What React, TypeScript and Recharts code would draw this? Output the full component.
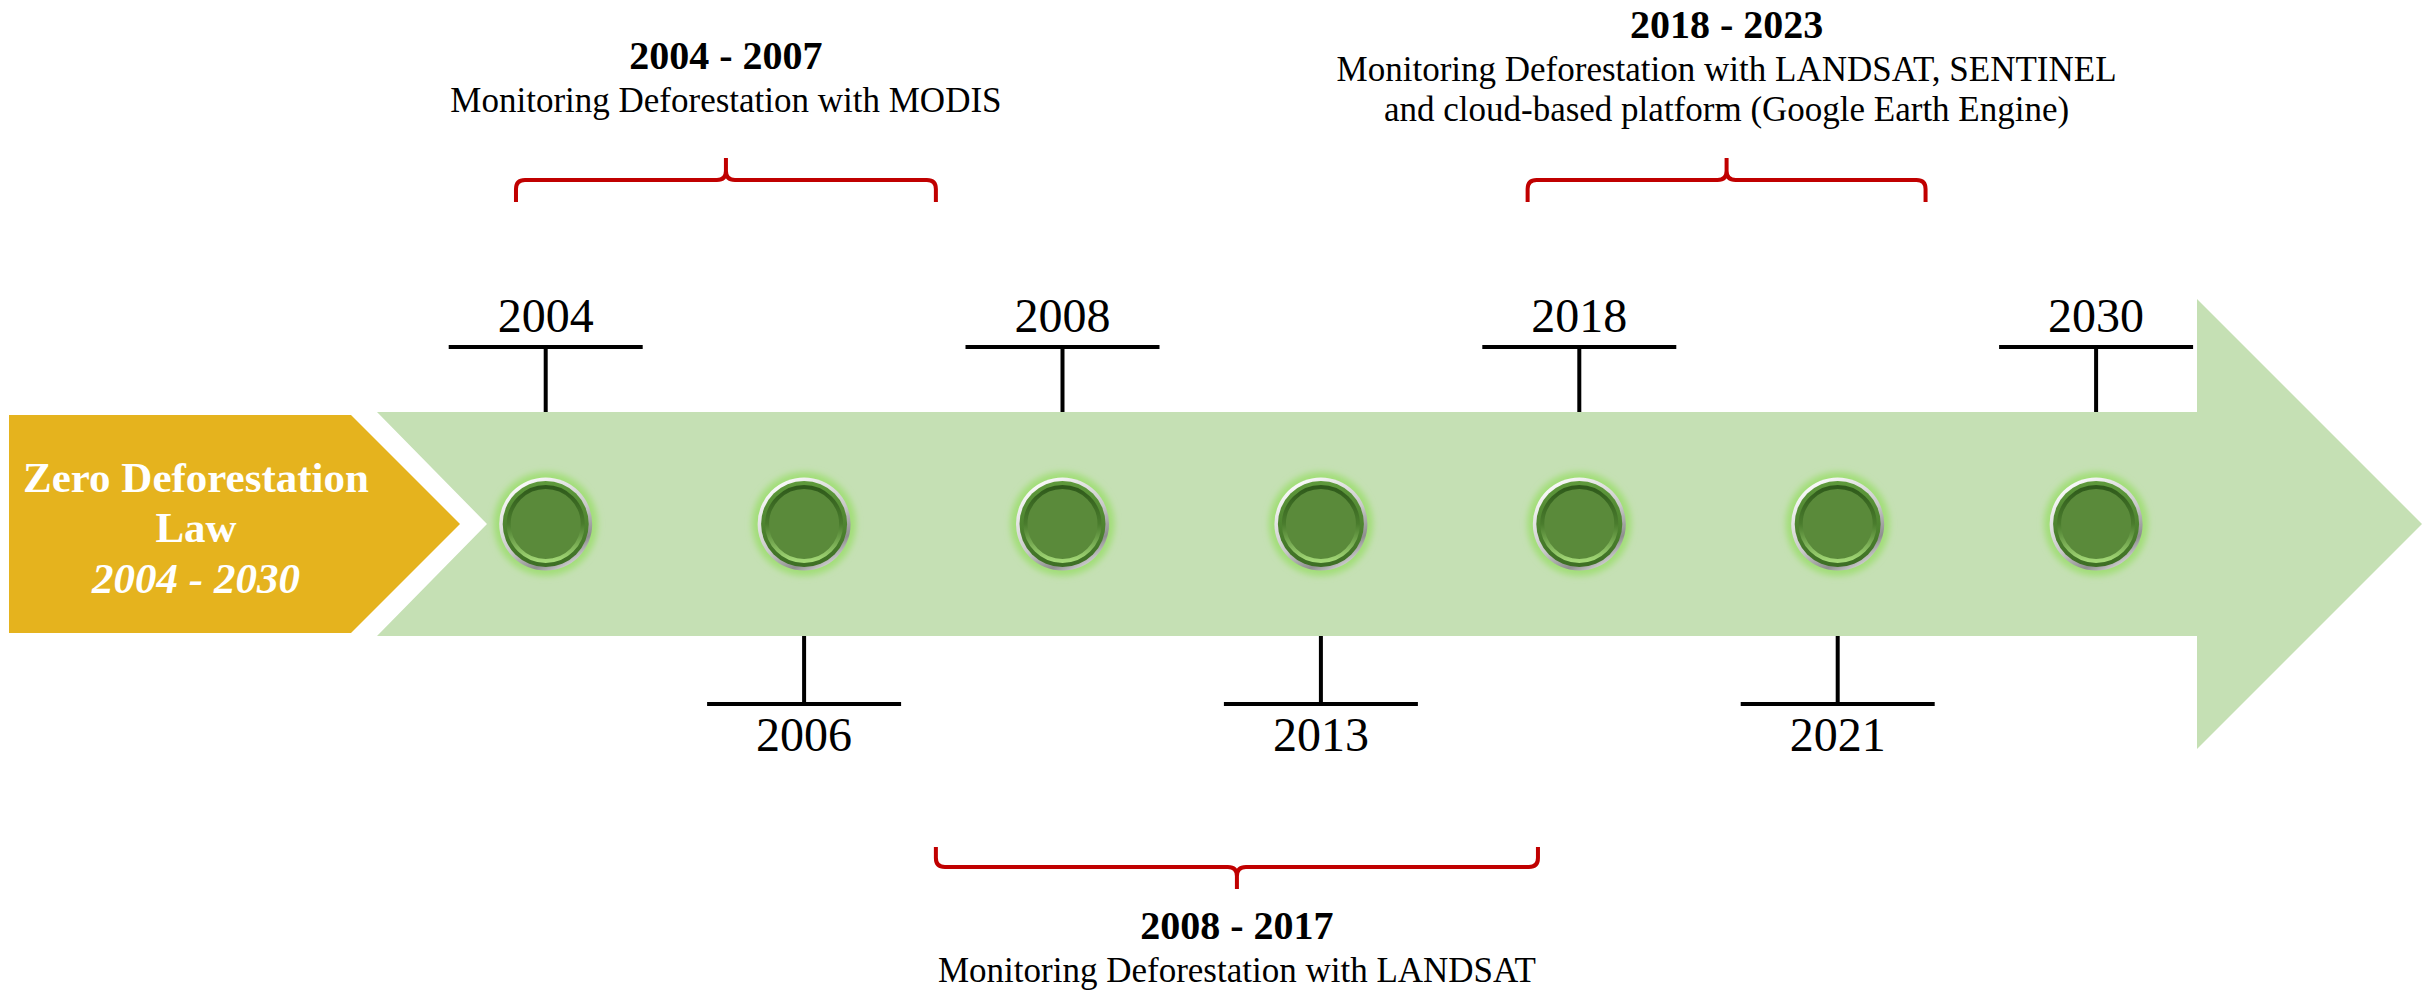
import { ScatterChart, Scatter, XAxis, YAxis, ReferenceArea } from "recharts";

const W = 2422;
const H = 990;
const SERIF = '"Liberation Serif", "Times New Roman", Times, serif';

// milestones along the arrow, one slot each
const years = ["2004", "2006", "2008", "2013", "2018", "2021", "2030"];
const labelSides = ["up", "down", "up", "down", "up", "down", "up"];

// monitoring periods (bracket spans in slot units)
const periodTitles = ["2004 - 2007", "2008 - 2017", "2018 - 2023"];
const periodTexts = [
  ["Monitoring Deforestation with MODIS"],
  ["Monitoring Deforestation with LANDSAT"],
  [
    "Monitoring Deforestation with LANDSAT, SENTINEL",
    "and cloud-based platform (Google Earth Engine)",
  ],
];
const periodSides = ["up", "down", "up"];
const periodFrom = [-0.115, 1.51, 3.80];
const periodTo = [1.51, 3.84, 5.34];

const lawLines = ["Zero Deforestation", "Law"];
const lawSpan = "2004 - 2030";

// axis domains: slot 0 sits at ~546px, one slot = 258.4px; level 0 is the arrow centre line
const SLOT0 = 545.7;
const SLOT_W = 258.4;
const X_MIN = -SLOT0 / SLOT_W;
const X_MAX = (W - SLOT0) / SLOT_W;
const Y_MIN = -466;
const Y_MAX = 524;
const BODY_HALF = 112;
const toSlot = (px: number) => (px - SLOT0) / SLOT_W;

const milestones = years.map((year, i) => ({
  slot: i,
  level: 0,
  year,
  side: labelSides[i],
}));

function LawShape(props: any) {
  const { x, y, width, height } = props;
  const half = height / 2;
  const pts = [
    [x, y],
    [x + width - half, y],
    [x + width, y + half],
    [x + width - half, y + height],
    [x, y + height],
  ]
    .map((p) => p.join(","))
    .join(" ");
  const tx = x + 187;
  return (
    <g>
      <polygon points={pts} fill="#E5B31E" />
      <text x={tx} y={y + 77} textAnchor="middle" fill="#fff" fontSize={43} fontWeight="bold" fontFamily={SERIF}>
        {lawLines[0]}
      </text>
      <text x={tx} y={y + 127} textAnchor="middle" fill="#fff" fontSize={43} fontWeight="bold" fontFamily={SERIF}>
        {lawLines[1]}
      </text>
      <text
        x={tx}
        y={y + 178}
        textAnchor="middle"
        fill="#fff"
        fontSize={43}
        fontWeight="bold"
        fontStyle="italic"
        fontFamily={SERIF}
      >
        {lawSpan}
      </text>
    </g>
  );
}

function ArrowShape(props: any) {
  const { x, y, width, height } = props;
  const cy = y + height / 2;
  const head = x + width - height / 2;
  const pts = [
    [x, cy - BODY_HALF],
    [head, cy - BODY_HALF],
    [head, y],
    [x + width, cy],
    [head, y + height],
    [head, cy + BODY_HALF],
    [x, cy + BODY_HALF],
    [x + BODY_HALF - 2, cy],
  ]
    .map((p) => p.join(","))
    .join(" ");
  return (
    <g>
      <defs>
        <filter id="glow" x="-50%" y="-50%" width="200%" height="200%">
          <feGaussianBlur stdDeviation="3" />
        </filter>
        <linearGradient id="silver" x1="0.2" y1="0" x2="0.8" y2="1">
          <stop offset="0" stopColor="#ffffff" />
          <stop offset="0.55" stopColor="#c9c9c9" />
          <stop offset="0.8" stopColor="#8f8f8f" />
          <stop offset="1" stopColor="#e8e8e8" />
        </linearGradient>
        <linearGradient id="rim" x1="0" y1="0" x2="0" y2="1">
          <stop offset="0" stopColor="#5f9a3c" />
          <stop offset="1" stopColor="#3d6e24" />
        </linearGradient>
        <linearGradient id="bevel" x1="0" y1="0" x2="0" y2="1">
          <stop offset="0" stopColor="#2f5a1b" />
          <stop offset="0.5" stopColor="#4a7c2d" />
          <stop offset="1" stopColor="#a3d877" />
        </linearGradient>
      </defs>
      <polygon points={pts} fill="#C5E0B4" />
    </g>
  );
}

function BracketShape(props: any) {
  const { x, y, width, height, idx } = props;
  const up = periodSides[idx] === "up";
  const mid = x + width / 2;
  const r = 9;
  let d: string;
  let hy: number;
  if (up) {
    hy = y + 22;
    const ends = y + height;
    d =
      `M${x},${ends} L${x},${hy + r} Q${x},${hy} ${x + r},${hy} L${mid - r},${hy} ` +
      `Q${mid},${hy} ${mid},${hy - r} L${mid},${y} M${mid},${hy - r} Q${mid},${hy} ${mid + r},${hy} ` +
      `L${x + width - r},${hy} Q${x + width},${hy} ${x + width},${hy + r} L${x + width},${ends}`;
  } else {
    hy = y + height - 22;
    const ends = y;
    const tip = y + height;
    d =
      `M${x},${ends} L${x},${hy - r} Q${x},${hy} ${x + r},${hy} L${mid - r},${hy} ` +
      `Q${mid},${hy} ${mid},${hy + r} L${mid},${tip} M${mid},${hy + r} Q${mid},${hy} ${mid + r},${hy} ` +
      `L${x + width - r},${hy} Q${x + width},${hy} ${x + width},${hy - r} L${x + width},${ends}`;
  }
  const lines = periodTexts[idx];
  const texts: any[] = [];
  if (up) {
    const last = hy - (lines.length > 1 ? 59 : 68);
    lines.forEach((t, i) => {
      const by = last - (lines.length - 1 - i) * 40;
      texts.push(
        <text key={i} x={mid} y={by} textAnchor="middle" fontSize={35} fontFamily={SERIF} fill="#000">
          {t}
        </text>
      );
    });
    texts.push(
      <text key="t" x={mid} y={last - (lines.length - 1) * 40 - 43} textAnchor="middle" fontSize={40} fontWeight="bold" fontFamily={SERIF} fill="#000">
        {periodTitles[idx]}
      </text>
    );
  } else {
    texts.push(
      <text key="t" x={mid} y={hy + 72} textAnchor="middle" fontSize={40} fontWeight="bold" fontFamily={SERIF} fill="#000">
        {periodTitles[idx]}
      </text>
    );
    lines.forEach((t, i) => {
      texts.push(
        <text key={i} x={mid} y={hy + 115 + i * 40} textAnchor="middle" fontSize={35} fontFamily={SERIF} fill="#000">
          {t}
        </text>
      );
    });
  }
  return (
    <g>
      <path d={d} fill="none" stroke="#C00000" strokeWidth={4} />
      {texts}
    </g>
  );
}

function Milestone(props: any) {
  const { cx, cy, payload } = props;
  const up = payload.side === "up";
  const stemStart = up ? cy - BODY_HALF : cy + BODY_HALF;
  const barY = up ? cy - 177 : cy + 180;
  const textY = up ? cy - 192 : cy + 227;
  return (
    <g>
      <line x1={cx} y1={stemStart} x2={cx} y2={barY} stroke="#000" strokeWidth={4} />
      <line x1={cx - 97} y1={barY} x2={cx + 97} y2={barY} stroke="#000" strokeWidth={4} />
      <text x={cx} y={textY} textAnchor="middle" fontSize={48} fontFamily={SERIF} fill="#000">
        {payload.year}
      </text>
      <circle cx={cx} cy={cy} r={52} fill="#a2de78" filter="url(#glow)" />
      <circle cx={cx} cy={cy} r={46.5} fill="url(#silver)" />
      <circle cx={cx} cy={cy} r={43} fill="url(#rim)" />
      <circle cx={cx} cy={cy} r={37} fill="#5a8a3a" stroke="url(#bevel)" strokeWidth={4} />
    </g>
  );
}

export default function App() {
  return (
    <div style={{ position: "absolute", left: 0, top: 0, width: W, height: H, background: "#fff" }}>
      <ScatterChart width={W} height={H} margin={{ top: 0, right: 0, bottom: 0, left: 0 }}>
        <XAxis type="number" dataKey="slot" domain={[X_MIN, X_MAX]} hide allowDataOverflow />
        <YAxis type="number" dataKey="level" domain={[Y_MIN, Y_MAX]} hide allowDataOverflow />
        <ReferenceArea
          x1={toSlot(377)}
          x2={X_MAX}
          y1={-225}
          y2={225}
          ifOverflow="visible"
          shape={(p: any) => <ArrowShape {...p} />}
        />
        <ReferenceArea
          x1={toSlot(9)}
          x2={toSlot(460)}
          y1={-109}
          y2={109}
          ifOverflow="visible"
          shape={(p: any) => <LawShape {...p} />}
        />
        {periodTitles.map((title, i) => (
          <ReferenceArea
            key={title}
            x1={periodFrom[i]}
            x2={periodTo[i]}
            y1={periodSides[i] === "up" ? 322 : -323}
            y2={periodSides[i] === "up" ? 366 : -365}
            ifOverflow="visible"
            shape={(p: any) => <BracketShape {...p} idx={i} />}
          />
        ))}
        <Scatter data={milestones} isAnimationActive={false} shape={(p: any) => <Milestone {...p} />} />
      </ScatterChart>
    </div>
  );
}
